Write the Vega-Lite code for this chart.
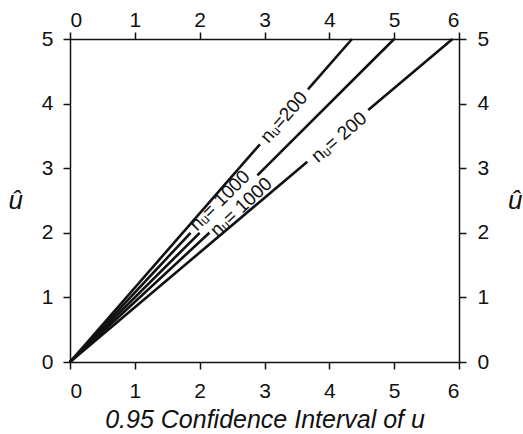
{
  "$schema": "https://vega.github.io/schema/vega-lite/v6.json",
  "width": 389,
  "height": 323,
  "autosize": {"type": "none"},
  "padding": {"left": 70, "top": 39, "right": 64, "bottom": 72},
  "background": "white",
  "config": {
    "view": {"stroke": null},
    "axis": {
      "grid": false,
      "domainColor": "#111111",
      "domainWidth": 1.5,
      "tickColor": "#111111",
      "tickWidth": 1.5,
      "tickSize": 7,
      "labelColor": "#111111",
      "labelFont": "Liberation Sans",
      "labelFontSize": 21,
      "titleFont": "Liberation Sans",
      "titleColor": "#111111",
      "titleFontWeight": "normal",
      "titleFontStyle": "italic",
      "titleFontSize": 25
    }
  },
  "datasets": {
    "lines": [
      {"seg": "n200lo-a", "ci": 0, "uhat": 0},
      {"seg": "n200lo-a", "ci": 2.93, "uhat": 3.37},
      {"seg": "n200lo-b", "ci": 3.67, "uhat": 4.22},
      {"seg": "n200lo-b", "ci": 4.35, "uhat": 5},
      {"seg": "n1000lo", "ci": 0, "uhat": 0},
      {"seg": "n1000lo", "ci": 1.86, "uhat": 2},
      {"seg": "ident-a", "ci": 0, "uhat": 0},
      {"seg": "ident-a", "ci": 2.0, "uhat": 2.0},
      {"seg": "ident-b", "ci": 2.89, "uhat": 2.89},
      {"seg": "ident-b", "ci": 5, "uhat": 5},
      {"seg": "n1000hi", "ci": 0, "uhat": 0},
      {"seg": "n1000hi", "ci": 2.15, "uhat": 2},
      {"seg": "n200hi-a", "ci": 0, "uhat": 0},
      {"seg": "n200hi-a", "ci": 3.66, "uhat": 3.1},
      {"seg": "n200hi-b", "ci": 4.6, "uhat": 3.9},
      {"seg": "n200hi-b", "ci": 5.9, "uhat": 5}
    ],
    "labels": [
      {"id": "a", "text": "nᵤ=200", "ci": 3.3, "uhat": 3.79},
      {"id": "b", "text": "nᵤ= 1000", "ci": 2.31, "uhat": 2.5},
      {"id": "c", "text": "nᵤ= 1000", "ci": 2.64, "uhat": 2.4},
      {"id": "d", "text": "nᵤ= 200", "ci": 4.15, "uhat": 3.48}
    ]
  },
  "resolve": {"axis": {"x": "independent", "y": "independent"}},
  "layer": [
    {
      "data": {"name": "lines"},
      "mark": {"type": "line", "color": "#111111", "strokeWidth": 2.6},
      "encoding": {
        "x": {
          "field": "ci", "type": "quantitative",
          "scale": {"domain": [0, 6], "nice": false, "zero": false},
          "axis": {"orient": "bottom", "values": [0, 1, 2, 3, 4, 5, 6], "labelPadding": 11, "title": "0.95 Confidence Interval of u", "titlePadding": 6}
        },
        "y": {
          "field": "uhat", "type": "quantitative",
          "scale": {"domain": [0, 5], "nice": false, "zero": false},
          "axis": {"orient": "left", "values": [0, 1, 2, 3, 4, 5], "labelPadding": 10, "title": "û", "titleAngle": 0, "titleAlign": "center", "titleBaseline": "middle", "titlePadding": 26, "titleFontSize": 26}
        },
        "detail": {"field": "seg"}
      }
    },
    {
      "data": {"name": "labels"},
      "transform": [{"filter": "datum.id == 'a'"}],
      "mark": {"type": "text", "font": "Liberation Sans", "fontSize": 19, "angle": -49, "align": "center", "baseline": "middle", "color": "#111111"},
      "encoding": {
        "x": {
          "field": "ci", "type": "quantitative",
          "scale": {"domain": [0, 6], "nice": false, "zero": false},
          "axis": {"orient": "top", "values": [0, 1, 2, 3, 4, 5, 6], "labelPadding": 2, "title": null}
        },
        "y": {
          "field": "uhat", "type": "quantitative",
          "scale": {"domain": [0, 5], "nice": false, "zero": false},
          "axis": {"orient": "right", "values": [0, 1, 2, 3, 4, 5], "labelPadding": 11, "title": "û", "titleAngle": 0, "titleAlign": "center", "titleBaseline": "middle", "titlePadding": 26, "titleFontSize": 26}
        },
        "text": {"field": "text"}
      }
    },
    {
      "data": {"name": "labels"},
      "transform": [{"filter": "datum.id == 'b'"}],
      "mark": {"type": "text", "font": "Liberation Sans", "fontSize": 19, "angle": -45, "align": "center", "baseline": "middle", "color": "#111111"},
      "encoding": {
        "x": {"field": "ci", "type": "quantitative", "axis": null},
        "y": {"field": "uhat", "type": "quantitative", "axis": null},
        "text": {"field": "text"}
      }
    },
    {
      "data": {"name": "labels"},
      "transform": [{"filter": "datum.id == 'c'"}],
      "mark": {"type": "text", "font": "Liberation Sans", "fontSize": 19, "angle": -43, "align": "center", "baseline": "middle", "color": "#111111"},
      "encoding": {
        "x": {"field": "ci", "type": "quantitative", "axis": null},
        "y": {"field": "uhat", "type": "quantitative", "axis": null},
        "text": {"field": "text"}
      }
    },
    {
      "data": {"name": "labels"},
      "transform": [{"filter": "datum.id == 'd'"}],
      "mark": {"type": "text", "font": "Liberation Sans", "fontSize": 19, "angle": -41, "align": "center", "baseline": "middle", "color": "#111111"},
      "encoding": {
        "x": {"field": "ci", "type": "quantitative", "axis": null},
        "y": {"field": "uhat", "type": "quantitative", "axis": null},
        "text": {"field": "text"}
      }
    }
  ]
}
